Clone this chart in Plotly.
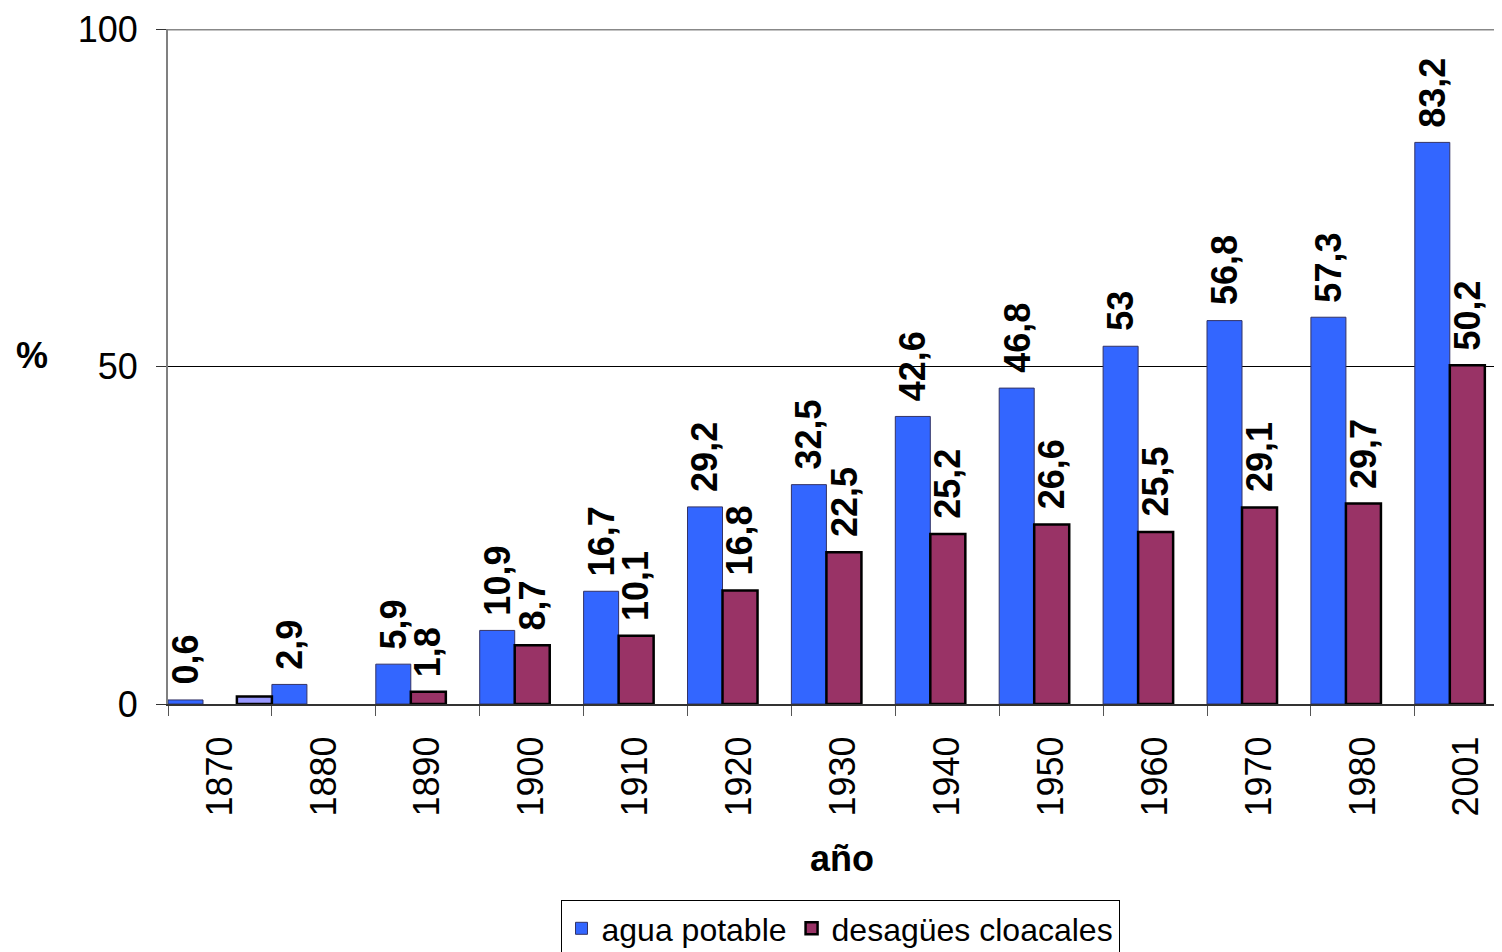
import plotly.graph_objects as go

years = ["1870", "1880", "1890", "1900", "1910", "1920", "1930", "1940", "1950", "1960", "1970", "1980", "2001"]
agua_potable = [0.6, 2.9, 5.9, 10.9, 16.7, 29.2, 32.5, 42.6, 46.8, 53, 56.8, 57.3, 83.2]
desagues = [None, None, 1.8, 8.7, 10.1, 16.8, 22.5, 25.2, 26.6, 25.5, 29.1, 29.7, 50.2]
extra_years = ["1870"]
extra_values = [1.1]

BW = 0.337
FONT = "Liberation Sans, Arial, sans-serif"
# page body has an 8px margin; plot area target on screen: x 168..1510, y 29..704
OFF = 8
PL, PT, PB_SCREEN = 168, 29, 704
PR_SCREEN = 1502 + OFF
PW = PR_SCREEN - PL
PH = PB_SCREEN - PT
PX_PER_CAT = 103.9
X_END = -0.5 + PW / PX_PER_CAT

fig = go.Figure()
fig.add_trace(go.Bar(
    x=years, y=agua_potable, name="agua potable",
    width=BW, offset=-0.5,
    marker=dict(color="#3366FF", line=dict(color="#333366", width=1)),
))
fig.add_trace(go.Bar(
    x=years, y=desagues, name="desagües cloacales",
    width=BW, offset=-0.5 + BW,
    marker=dict(color="#993366", line=dict(color="black", width=2.5)),
))
fig.add_trace(go.Bar(
    x=extra_years, y=extra_values, showlegend=False,
    width=BW, offset=0.5 - BW,
    marker=dict(color="#9999FF", line=dict(color="black", width=2.5)),
))

label_font = dict(family=FONT, size=36, color="black", weight="bold")
annotations = []
for series, shift in ((agua_potable, 0.0), (desagues, BW)):
    for i, v in enumerate(series):
        if v is None:
            continue
        annotations.append(dict(
            x=i - 0.5 + shift + BW / 2, y=v, xref="x", yref="y",
            text=f"{v:g}".replace(".", ","), showarrow=False, textangle=-90,
            xanchor="center", yanchor="bottom", yshift=13,
            font=label_font,
        ))
annotations.append(dict(
    x=(32 - PL) / PW, y=(PB_SCREEN - 355) / PH, xref="paper", yref="paper", text="%",
    showarrow=False, xanchor="center", yanchor="middle",
    font=dict(family=FONT, size=36, color="black", weight="bold"),
))
annotations.append(dict(
    x=(842 - PL) / PW, y=(PB_SCREEN - 858) / PH, xref="paper", yref="paper", text="año",
    showarrow=False, xanchor="center", yanchor="middle",
    font=dict(family=FONT, size=36, color="black", weight="bold"),
))

fig.update_layout(
    width=1502, height=952,
    margin=dict(l=PL - OFF, r=0, t=PT - OFF, b=952 - (PB_SCREEN - OFF), autoexpand=False),
    paper_bgcolor="white", plot_bgcolor="white",
    barmode="overlay",
    font=dict(family=FONT, size=36, color="black"),
    annotations=annotations,
    shapes=[dict(type="line", xref="paper", yref="y", x0=0, x1=1, y0=100, y1=100,
                 line=dict(color="#888888", width=3), layer="above")],
    legend=dict(
        orientation="h", x=(840 - PL) / PW, xanchor="center",
        y=(PB_SCREEN - 900) / PH, yanchor="top",
        bordercolor="black", borderwidth=1, bgcolor="white",
        font=dict(family=FONT, size=32, color="black"),
    ),
    xaxis=dict(
        type="category", range=[-0.5, X_END], automargin=False,
        tickangle=-90, ticks="outside", ticklen=10, tickcolor="#555555",
        tickson="boundaries", showline=True, linecolor="#333333", linewidth=2,
        showgrid=False, ticklabelstandoff=16,
        tickfont=dict(family=FONT, size=36, color="black"),
    ),
    yaxis=dict(
        range=[0, 100], tickvals=[0, 50, 100], ticks="outside", ticklen=10,
        automargin=False,
        tickcolor="#333333", showline=True, linecolor="#808080", linewidth=2,
        showgrid=True, gridcolor="black", gridwidth=1, zeroline=False,
        ticklabelstandoff=11,
        tickfont=dict(family=FONT, size=36, color="black"),
    ),
)

fig.write_html("out.html")
